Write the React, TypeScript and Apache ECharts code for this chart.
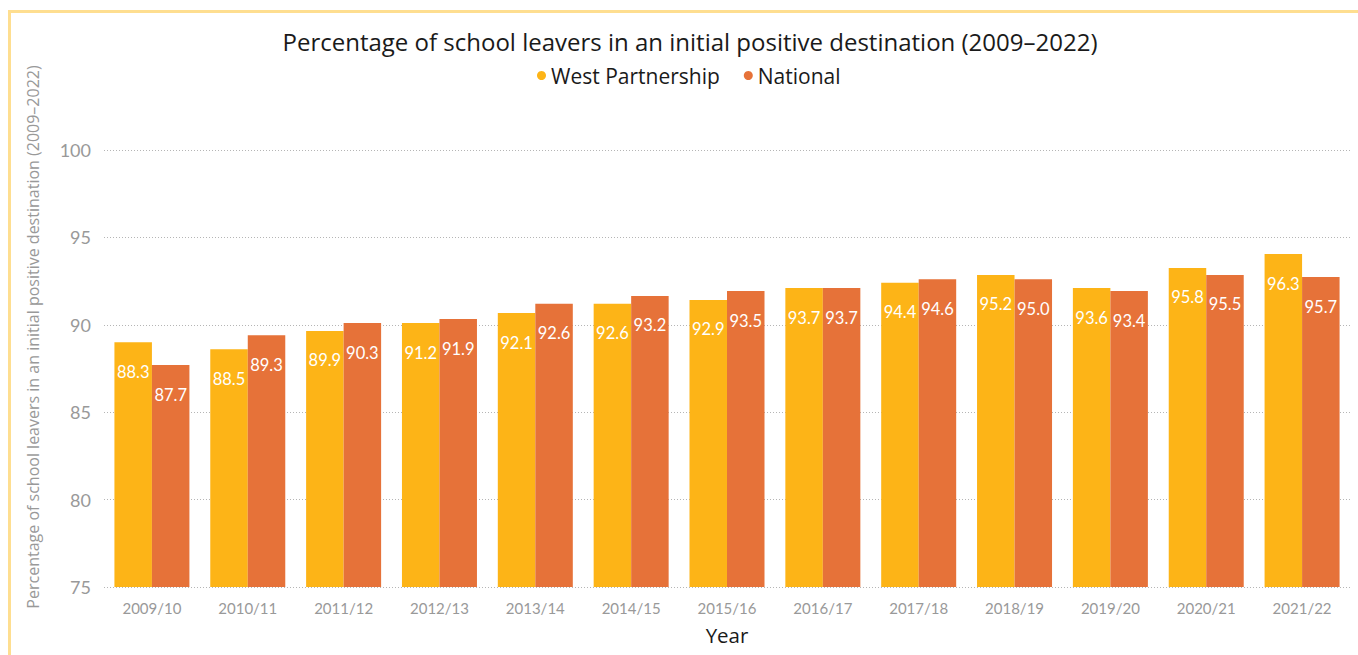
import React, { useEffect, useRef } from "react";
import * as echarts from "echarts";

const categories = [
  "2009/10", "2010/11", "2011/12", "2012/13", "2013/14", "2014/15", "2015/16",
  "2016/17", "2017/18", "2018/19", "2019/20", "2020/21", "2021/22",
];
// bar heights as drawn in the reference
const westValues = [89.0, 88.6, 89.65, 90.1, 90.67, 91.2, 91.42, 92.1, 92.4, 92.85, 92.1, 93.25, 94.05];
const nationalValues = [87.7, 89.4, 90.1, 90.33, 91.2, 91.65, 91.93, 92.1, 92.6, 92.6, 91.93, 92.85, 92.73];
// labels printed on the bars in the reference
const westLabels = ["88.3", "88.5", "89.9", "91.2", "92.1", "92.6", "92.9", "93.7", "94.4", "95.2", "93.6", "95.8", "96.3"];
const nationalLabels = ["87.7", "89.3", "90.3", "91.9", "92.6", "93.2", "93.5", "93.7", "94.6", "95.0", "93.4", "95.5", "95.7"];

const NUM_FONT = "Lato, 'Noto Sans', sans-serif";
const TXT_FONT = "'Open Sans', 'Noto Sans', sans-serif";
const WEST = "#FDB417";
const NATIONAL = "#E67239";

export default function App() {
  const ref = useRef<HTMLDivElement>(null);
  useEffect(() => {
    if (!ref.current) return;
    const chart = echarts.init(ref.current, undefined, { renderer: "svg" });
    const labelStyle = (labels: string[]) => ({
      show: true,
      position: "insideTop",
      distance: 21,
      color: "#ffffff",
      fontSize: 16.5,
      fontFamily: NUM_FONT,
      formatter: (p: any) => labels[p.dataIndex],
    });
    chart.setOption({
      animation: false,
      textStyle: { fontFamily: NUM_FONT },
      title: {
        text: "Percentage of school leavers in an initial positive destination (2009\u20132022)",
        left: 690,
        textAlign: "center",
        top: 29,
        padding: 0,
        textStyle: { fontSize: 24, fontWeight: "normal", color: "#1a1a1a", fontFamily: TXT_FONT },
      },
      legend: {
        data: ["West Partnership", "National"],
        left: 537,
        top: 65,
        padding: 0,
        icon: "circle",
        itemWidth: 9,
        itemHeight: 9,
        itemGap: 24,
        textStyle: { fontSize: 21, color: "#1a1a1a", fontFamily: TXT_FONT },
      },
      grid: { left: 104, right: 8, top: 150, bottom: 68, containLabel: false },
      xAxis: {
        type: "category",
        data: categories,
        axisLine: { show: false },
        axisTick: { show: false },
        axisLabel: { color: "#999999", fontSize: 15, margin: 13, fontFamily: NUM_FONT },
        name: "Year",
        nameLocation: "middle",
        nameGap: 37,
        nameTextStyle: { fontSize: 20.5, color: "#1a1a1a", fontFamily: TXT_FONT },
      },
      yAxis: {
        type: "value",
        min: 75,
        max: 100,
        interval: 5,
        axisLine: { show: false },
        axisTick: { show: false },
        axisLabel: { color: "#999999", fontSize: 18, margin: 13, fontFamily: NUM_FONT },
        splitLine: { lineStyle: { color: "#b5b5b5", type: [1, 2], width: 1 } },
      },
      graphic: [
        { type: "rect", shape: { x: 8, y: 10, width: 1350, height: 3 }, style: { fill: "#FEDE90" } },
        { type: "rect", shape: { x: 8, y: 10, width: 3, height: 645 }, style: { fill: "#FEDE90" } },
        {
          type: "text",
          x: 33,
          y: 337,
          rotation: Math.PI / 2,
          style: {
            text: "Percentage of school leavers in an initial positive destination (2009\u20132022)",
            fill: "#999999",
            fontSize: 16,
            fontFamily: TXT_FONT,
            align: "center",
            verticalAlign: "middle",
          },
        },
      ],
      series: [
        {
          name: "West Partnership",
          type: "bar",
          data: westValues,
          barWidth: 37.5,
          barGap: "0%",
          itemStyle: { color: WEST },
          label: labelStyle(westLabels),
        },
        {
          name: "National",
          type: "bar",
          data: nationalValues,
          barWidth: 37.5,
          barGap: "0%",
          itemStyle: { color: NATIONAL },
          label: labelStyle(nationalLabels),
        },
      ],
    });
    return () => chart.dispose();
  }, []);
  return (
    <div
      ref={ref}
      style={{ position: "fixed", left: 0, top: 0, width: 1358, height: 655, background: "#ffffff" }}
    />
  );
}
